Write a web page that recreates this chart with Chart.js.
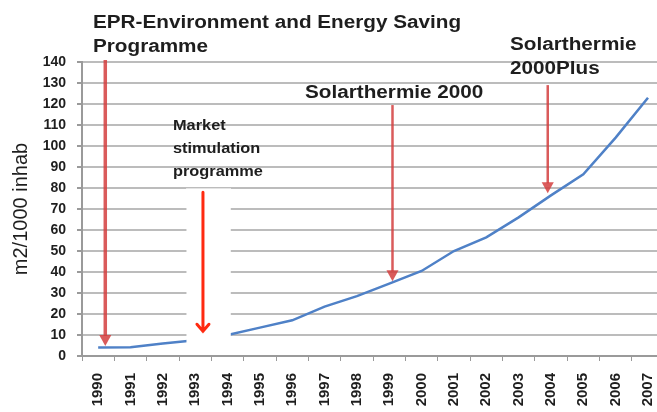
<!DOCTYPE html>
<html>
<head>
<meta charset="utf-8">
<title>Solar thermal area per 1000 inhabitants</title>
<script src="https://cdn.jsdelivr.net/npm/chart.js@4.4.1/dist/chart.umd.min.js"></script>
<style>
  html, body { margin: 0; padding: 0; background: #fff; overflow: hidden; }
  #wrap { position: relative; width: 678px; height: 412px; }
</style>
</head>
<body>
<div id="wrap"><canvas id="solarChart"></canvas></div>
<script>
const years = ['1990', '1991', '1992', '1993', '1994', '1995', '1996', '1997', '1998',
  '1999', '2000', '2001', '2002', '2003', '2004', '2005', '2006', '2007'];
const areaPer1000 = [4, 4.2, 6, 7.5, 10, 13.5, 17, 23.5, 28.5,
  34.5, 40.5, 50, 56.5, 66, 76.5, 86.5, 104, 123];
const yMax = 140;
const yStep = 10;

// programme arrows: x in category units, from / to in m2 per 1000
const arrowAt = [0.22, 9.1, 13.9];
const arrowFrom = [141, 119.5, 129];
const arrowTo = [4.8, 35.6, 77.5];

const TEXT_FONT = 'bold 18px "Liberation Sans", Arial, sans-serif';
const SMALL_FONT = 'bold 15px "Liberation Sans", Arial, sans-serif';

function drawArrow(ctx, x, y1, y2, color, width, head) {
  ctx.save();
  ctx.strokeStyle = color;
  ctx.fillStyle = color;
  ctx.lineWidth = width;
  ctx.beginPath();
  ctx.moveTo(x, y1);
  ctx.lineTo(x, y2 - head + 1);
  ctx.stroke();
  ctx.beginPath();
  ctx.moveTo(x - head * 0.55, y2 - head);
  ctx.lineTo(x + head * 0.55, y2 - head);
  ctx.lineTo(x, y2);
  ctx.closePath();
  ctx.fill();
  ctx.restore();
}

// the caption lettering is a little wider than the plain font
function wideText(ctx, text, x, y, sx) {
  ctx.save();
  ctx.translate(x, y);
  ctx.scale(sx, 1);
  ctx.fillText(text, 0, 0);
  ctx.restore();
}

const programmes = {
  id: 'programmes',
  afterDraw(chart) {
    const ctx = chart.ctx;
    const xs = chart.scales.x;
    const ys = chart.scales.y;

    // white panel behind the market programme arrow
    const bx = xs.getPixelForValue(2.73);
    const bx2 = xs.getPixelForValue(4.1);
    const by = ys.getPixelForValue(80);
    const by2 = ys.getPixelForValue(3.6);
    ctx.save();
    ctx.fillStyle = '#ffffff';
    ctx.fillRect(bx, by, bx2 - bx, by2 - by);
    ctx.strokeStyle = '#e4e4e4';
    ctx.lineWidth = 1;
    ctx.beginPath();
    ctx.moveTo(bx, by + 0.5);
    ctx.lineTo(bx2, by + 0.5);
    ctx.stroke();
    ctx.restore();

    // market programme arrow, bright red with an open head
    const mx = xs.getPixelForValue(3.24);
    const mTop = ys.getPixelForValue(78);
    const mTip = ys.getPixelForValue(11.8);
    ctx.save();
    ctx.strokeStyle = '#ff2a10';
    ctx.lineWidth = 3;
    ctx.lineCap = 'round';
    ctx.beginPath();
    ctx.moveTo(mx, mTop);
    ctx.lineTo(mx, mTip);
    ctx.moveTo(mx - 6, mTip - 7);
    ctx.lineTo(mx, mTip);
    ctx.lineTo(mx + 6, mTip - 7);
    ctx.stroke();
    ctx.restore();

    arrowAt.forEach((a, i) => {
      drawArrow(ctx, xs.getPixelForValue(a), ys.getPixelForValue(arrowFrom[i]),
        ys.getPixelForValue(arrowTo[i]), 'rgba(212, 62, 62, 0.85)', i === 0 ? 3.5 : 2.5, 11);
    });

    ctx.save();
    ctx.fillStyle = '#1e1e1e';
    ctx.textAlign = 'left';
    ctx.textBaseline = 'alphabetic';
    ctx.font = TEXT_FONT;
    wideText(ctx, 'EPR-Environment and Energy Saving', 93, 28, 1.15);
    wideText(ctx, 'Programme', 93, 52, 1.15);
    wideText(ctx, 'Solarthermie', 510, 50, 1.15);
    wideText(ctx, '2000Plus', 510, 74, 1.15);
    wideText(ctx, 'Solarthermie 2000', 305, 98, 1.15);
    ctx.font = SMALL_FONT;
    wideText(ctx, 'Market', 173, 130, 1.09);
    wideText(ctx, 'stimulation', 173, 153, 1.09);
    wideText(ctx, 'programme', 173, 176, 1.09);
    ctx.restore();
  }
};

new Chart(document.getElementById('solarChart'), {
  type: 'line',
  data: {
    labels: years,
    datasets: [{
      data: areaPer1000,
      borderColor: '#4f81c7',
      borderWidth: 2.5,
      pointRadius: 0,
      tension: 0,
      fill: false
    }]
  },
  options: {
    responsive: true,
    maintainAspectRatio: false,
    animation: false,
    layout: { padding: { top: 62, right: 0, bottom: 0, left: 0 } },
    plugins: {
      legend: { display: false },
      tooltip: { enabled: false }
    },
    scales: {
      x: {
        offset: true,
        grid: {
          offset: true,
          drawOnChartArea: false,
          drawTicks: true,
          tickLength: 5,
          color: '#9a9a9a'
        },
        border: { color: '#9a9a9a', width: 2 },
        ticks: {
          minRotation: 90,
          maxRotation: 90,
          autoSkip: false,
          padding: 12,
          color: '#1e1e1e',
          font: { family: '"Liberation Sans", Arial, sans-serif', size: 15, weight: 'bold' }
        },
        afterFit(scale) { scale.height = 56; }
      },
      y: {
        min: 0,
        max: yMax,
        ticks: {
          stepSize: yStep,
          padding: 11,
          color: '#1e1e1e',
          font: { family: '"Liberation Sans", Arial, sans-serif', size: 14, weight: 'bold' }
        },
        grid: {
          color: '#bcbcbc',
          lineWidth: 2,
          tickLength: 5,
          tickColor: '#9a9a9a'
        },
        border: { color: '#9a9a9a', width: 2 },
        title: {
          display: true,
          text: 'm2/1000 inhab',
          color: '#1e1e1e',
          padding: { top: 9, bottom: 0 },
          font: { family: '"Liberation Sans", Arial, sans-serif', size: 20 }
        },
        afterFit(scale) { scale.width = 82; }
      }
    }
  },
  plugins: [programmes]
});
</script>
</body>
</html>
